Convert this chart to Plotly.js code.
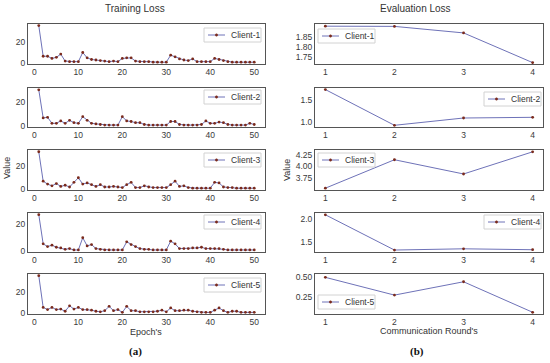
<!DOCTYPE html>
<html><head><meta charset="utf-8">
<script src="https://cdn.plot.ly/plotly-3.0.1.min.js"></script>
<style>html,body{margin:0;padding:0;background:#fff}#chart{width:550px;height:363px}</style>
</head><body><div id="chart"></div><script>
const epochs = [1,2,3,4,5,6,7,8,9,10,11,12,13,14,15,16,17,18,19,20,21,22,23,24,25,26,27,28,29,30,31,32,33,34,35,36,37,38,39,40,41,42,43,44,45,46,47,48,49,50];
const rounds = [1,2,3,4];
const clientNames = ['Client-1','Client-2','Client-3','Client-4','Client-5'];

const train1 = [35,6.5,6.5,4.5,5.5,8.5,2,1.5,1.5,1.5,10,5,3.5,3,2.5,2,1.5,2,1.5,4.5,5,5,2,1.5,1.5,1.5,1,1,1,1,7.5,6,4,3,2.5,4,1.5,1.5,1.5,1.5,4.5,3.5,2.5,1.5,1,1,1,1,1,1];
const train2 = [30.5,7,7.5,2.5,2.5,4.5,2.5,5,3,2.5,8,5,2.5,2,1.5,1,1,1,1,8,4.5,4,3,3,1.5,1,1,1,1,1,4,4,1.5,1,1,1,1,1.5,4.5,2.5,2.5,3.5,3,1.5,1,1,1,1,2.5,1.5];
const train3 = [32.5,7,4.5,3,5,2.5,3.5,2,6,10,4.5,5.5,4,2.5,4,2,2,2.5,2,1.5,4,6,1.5,1.5,3,2,1.5,1.5,1.5,1.5,4,7,2.5,3,1.5,1,1,1,1,1,6,5.5,2,1.5,1.5,1,1,1,1,1];
const train4 = [27,5.5,3.5,4.5,3,2.5,1.5,2,1,1,10,4,5,2,1.5,1,1,1,1,1,7,5,3.5,2,1.5,1.5,1,1,1,1,7.5,5.5,2,2,2,2.5,2.5,3,2,2,2,2,1.5,1,1,1,1,1,1,1];
const train5 = [34.5,5.5,3.5,5.5,3.5,4,2,7,4,5.5,3.5,3.5,3,2,1.5,2.5,6.5,2.5,3.5,1,6.5,2.5,2.5,1.5,1.5,1.5,1.5,2,3,1.5,5,2.5,2.5,3,3,2,1.5,1,1,1,3,5,2.5,1,2,2,1,1,1,1];

const eval1 = [1.907,1.906,1.873,1.723];
const eval2 = [1.747,0.924,1.092,1.108];
const eval3 = [3.518,4.143,3.830,4.317];
const eval4 = [2.087,1.313,1.340,1.320];
const eval5 = [0.492,0.275,0.438,0.065];

const trainSeries = [train1,train2,train3,train4,train5];
const evalSeries = [eval1,eval2,eval3,eval4,eval5];

const W = 550, H = 363;
const px = v => v / W;
const py = v => 1 - v / H;
const rows = [[24,64],[88,127],[150,190],[213,252],[274,314]];
const leftDom = [px(28), px(265)];
const rightDom = [px(315), px(543)];
const trainRanges = [[-0.7,36.5],[-0.6,32],[-0.6,34],[-0.5,28.2],[-0.5,36]];
const evalRanges = [[1.716,1.918],[0.885,1.783],[3.478,4.357],[1.27,2.126],[0.044,0.533]];
const evalTicks = [[1.75,1.80,1.85],[1.0,1.5],[3.75,4.00,4.25],[1.5,2.0],[0.25,0.50]];
const evalTickText = [['1.75','1.80','1.85'],['1.0','1.5'],['3.75','4.00','4.25'],['1.5','2.0'],['0.25','0.50']];
// legend box top-left corners (pixels)
const trainLeg = [[204,28],[204,90],[204,153],[204,215],[204,278]];
const evalLeg = [[318,29],[484,92],[318,153],[484,215],[318,295]];

const lineColor = '#6e72b8';
const markColor = '#7a2a1c';
const frame = '#555555';
const sans = 'Liberation Sans, Arial, sans-serif';
const tickFont = {family:sans, size:8.5, color:'#3a3a3a'};

const traces = [];
const layout = {
  width: W, height: H, margin:{l:0,r:0,t:0,b:0},
  paper_bgcolor:'#fff', plot_bgcolor:'#fff', showlegend:false,
  font:{family:sans, color:'#333'},
  annotations: [], shapes: []
};

function axisBase(){
  return {showline:true, mirror:true, linecolor:frame, linewidth:1, showgrid:false, zeroline:false,
          ticks:'', tickfont:tickFont, fixedrange:true};
}

function addLegend(l, t, name){
  const w = 57, h = 14;
  layout.shapes.push({type:'rect', xref:'paper', yref:'paper', x0:px(l), x1:px(l+w), y0:py(t+h), y1:py(t),
    line:{color:'#d2d2d2', width:1}, fillcolor:'rgba(255,255,255,0.85)', layer:'above'});
  layout.shapes.push({type:'line', xref:'paper', yref:'paper', x0:px(l+4), x1:px(l+21), y0:py(t+7), y1:py(t+7),
    line:{color:lineColor, width:1}, layer:'above'});
  layout.shapes.push({type:'circle', xref:'paper', yref:'paper', x0:px(l+11.3), x1:px(l+13.7), y0:py(t+8.2), y1:py(t+5.8),
    line:{color:markColor, width:0.5}, fillcolor:markColor, layer:'above'});
  layout.annotations.push({text:name, x:px(l+25), y:py(t+7), xref:'paper', yref:'paper', showarrow:false,
    xanchor:'left', yanchor:'middle', font:{family:sans, size:8.5, color:'#333'}});
}

for (let i=0;i<5;i++){
  const li = i+1, ri = i+6;
  const ls = li===1 ? '' : String(li);
  traces.push({x:epochs, y:trainSeries[i], type:'scatter', mode:'lines+markers', name:clientNames[i],
    xaxis:'x'+ls, yaxis:'y'+ls,
    line:{color:lineColor,width:1}, marker:{color:markColor,size:2.8}});
  traces.push({x:rounds, y:evalSeries[i], type:'scatter', mode:'lines+markers', name:clientNames[i],
    xaxis:'x'+ri, yaxis:'y'+ri,
    line:{color:lineColor,width:1}, marker:{color:markColor,size:2.8}});
  const yd = [py(rows[i][1]), py(rows[i][0])];
  layout['xaxis'+ls] = Object.assign(axisBase(), {domain:leftDom, range:[-1.45,52.45], tickvals:[0,10,20,30,40,50], anchor:'y'+ls});
  layout['yaxis'+ls] = Object.assign(axisBase(), {domain:yd, range:trainRanges[i], tickvals:[0,20], anchor:'x'+ls});
  layout['xaxis'+ri] = Object.assign(axisBase(), {domain:rightDom, range:[0.85,4.15], tickvals:[1,2,3,4], anchor:'y'+ri});
  layout['yaxis'+ri] = Object.assign(axisBase(), {domain:yd, range:evalRanges[i], tickvals:evalTicks[i], ticktext:evalTickText[i], anchor:'x'+ri});
  addLegend(trainLeg[i][0], trainLeg[i][1], clientNames[i]);
  addLegend(evalLeg[i][0], evalLeg[i][1], clientNames[i]);
}

const txt = (t, x, y, size, extra) => Object.assign({text:t, x:px(x), y:py(y), xref:'paper', yref:'paper', showarrow:false,
  xanchor:'center', yanchor:'middle', font:{family:sans, size:size, color:'#333'}}, extra||{});
layout.annotations.push(txt('Training Loss', 135, 8, 10));
layout.annotations.push(txt('Evaluation Loss', 415, 8, 10));
layout.annotations.push(txt("Epoch's", 146, 332, 9));
layout.annotations.push(txt("Communication Round's", 429, 331, 9));
layout.annotations.push(txt('Value', 7, 168, 9, {textangle:-90}));
layout.annotations.push(txt('Value', 287, 170, 9, {textangle:-90}));
layout.annotations.push(txt('<b>(a)</b>', 135, 351, 11, {font:{family:'Liberation Serif, Times New Roman, serif', size:11, color:'#111'}}));
layout.annotations.push(txt('<b>(b)</b>', 417, 351, 11, {font:{family:'Liberation Serif, Times New Roman, serif', size:11, color:'#111'}}));

Plotly.newPlot('chart', traces, layout, {staticPlot:true, displayModeBar:false});
</script></body></html>
